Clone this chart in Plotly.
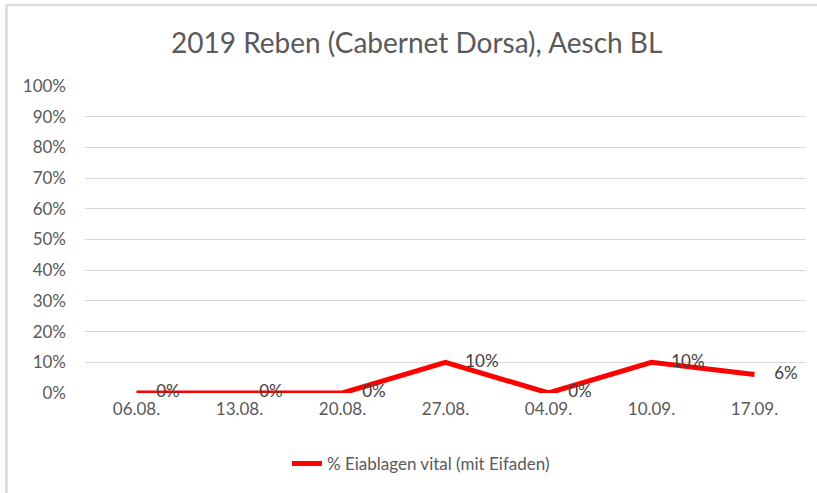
import plotly.graph_objects as go

dates = ["06.08.", "13.08.", "20.08.", "27.08.", "04.09.", "10.09.", "17.09."]
values_pct = [0, 0, 0, 10, 0, 10, 6]
series_name = "% Eiablagen vital (mit Eifaden)"
title_text = "2019 Reben (Cabernet Dorsa), Aesch BL"
y_ticks = list(range(0, 101, 10))

font_family = "Lato, 'Open Sans', sans-serif"
gray = "#595959"

fig = go.Figure()
fig.add_trace(go.Scatter(
    x=dates, y=values_pct, mode="lines+markers+text",
    name=series_name,
    line=dict(color="#FF0000", width=5),
    marker=dict(size=30, color="rgba(0,0,0,0)"),
    text=[f"{v}%" for v in values_pct],
    textposition="middle right",
    textfont=dict(family=font_family, size=17, color="#404040"),
    cliponaxis=False,
))

fig.update_layout(
    width=817, height=493,
    paper_bgcolor="white", plot_bgcolor="white",
    margin=dict(l=85, r=11, t=86, b=100),
    title=dict(text=title_text, x=0.51, xanchor="center", y=0.913, yanchor="middle",
               font=dict(family=font_family, size=28, color=gray)),
    xaxis=dict(type="category", range=[-0.5, 6.5], showgrid=False, showline=False,
               ticks="", tickfont=dict(family=font_family, size=17, color=gray), zeroline=False,
               ticklabelstandoff=4),
    yaxis=dict(range=[0, 100], tickvals=y_ticks, ticktext=[f"{t}%" for t in y_ticks],
               showgrid=True, gridcolor="#d9d9d9", gridwidth=1, zeroline=False,
               showline=False, ticks="", ticklabelstandoff=18,
               tickfont=dict(family=font_family, size=17, color=gray)),
    showlegend=True,
    legend=dict(orientation="h", x=0.466, xanchor="center", y=-0.231, yanchor="middle",
                font=dict(family=font_family, size=17, color=gray)),
    shapes=[
        dict(type="line", xref="paper", yref="paper", x0=-0.11, x1=1.03, y0=1.264, y1=1.264,
             line=dict(color="#d9d9d9", width=2.5)),
        dict(type="line", xref="paper", yref="paper", x0=-0.109, x1=-0.109, y0=1.264, y1=-0.36,
             line=dict(color="#d9d9d9", width=2.5)),
    ],
)

fig.write_html("out.html", config={"displayModeBar": False},
               post_script="document.body.style.margin='0';document.body.style.padding='0';")
